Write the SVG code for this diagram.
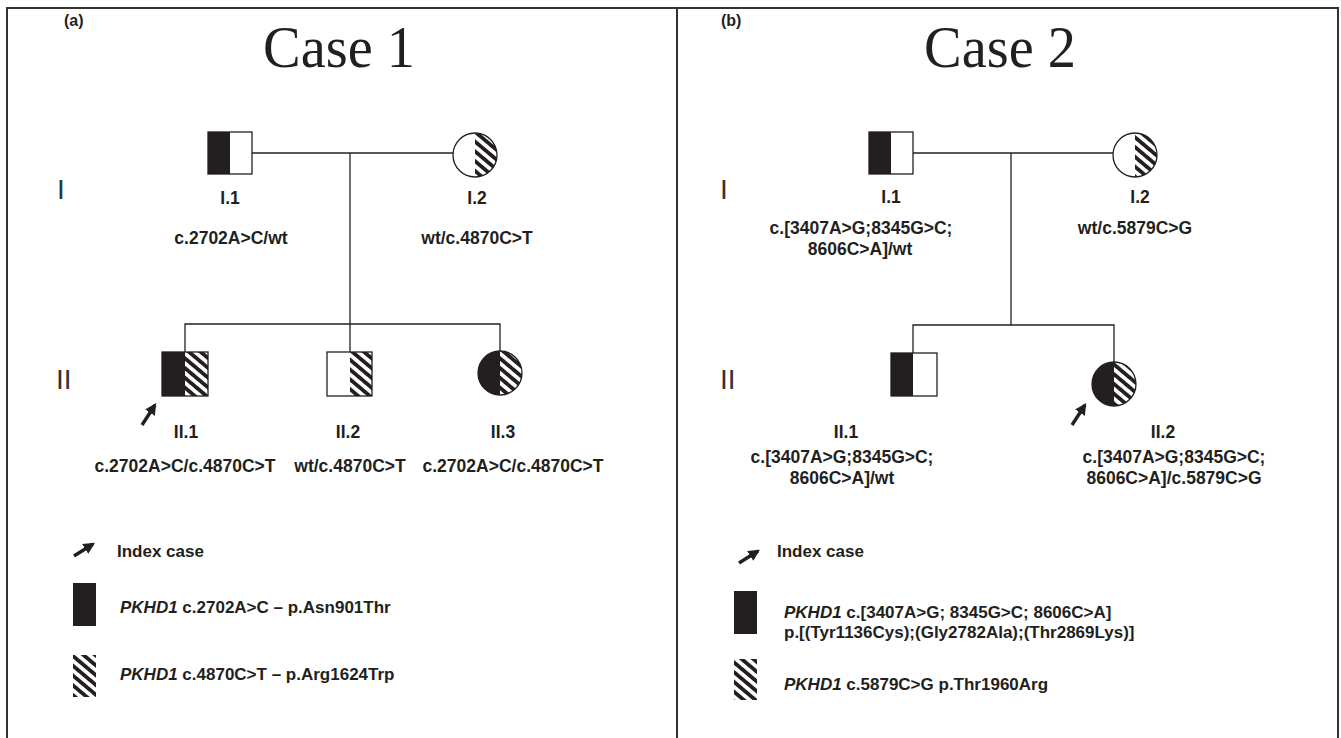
<svg xmlns="http://www.w3.org/2000/svg" width="1341" height="738" viewBox="0 0 1341 738">
<style>
.lbl{font-family:"Liberation Sans",Arial,sans-serif;font-weight:bold;font-size:17.5px;fill:#231f20;text-anchor:middle}
.leg{font-family:"Liberation Sans",Arial,sans-serif;font-weight:bold;font-size:17px;fill:#231f20}
.gen{font-style:italic}
.rom{font-family:"Liberation Sans",Arial,sans-serif;font-size:28px;fill:#333}
.ttl{font-family:"Liberation Serif","Times New Roman",serif;font-size:60px;fill:#231f20;text-anchor:middle}
.pnl{font-family:"Liberation Sans",Arial,sans-serif;font-weight:bold;font-size:16px;fill:#231f20}
.ln{stroke:#231f20;stroke-width:1.3;fill:none}
.out{stroke:#231f20;stroke-width:1.3;fill:none}
.blk{fill:#231f20}
.hat{fill:url(#hatch)}
.arr{stroke:#231f20;stroke-width:3.4;fill:none;marker-end:url(#ah)}
.frame{stroke:#333;stroke-width:2;fill:none}
</style>
<defs>
<pattern id="hatch" patternUnits="userSpaceOnUse" width="7.5" height="7.5" patternTransform="rotate(-50)">
<rect width="7.5" height="7.5" fill="#fff"/>
<rect width="3.8" height="7.5" fill="#231f20"/>
</pattern>
<marker id="ah" viewBox="0 0 10 10" refX="8" refY="5" markerWidth="3.4" markerHeight="3.4" orient="auto" markerUnits="strokeWidth">
<path d="M0,0 L10,5 L0,10 z" fill="#231f20"/>
</marker>
</defs>
<rect width="1341" height="738" fill="#fff"/>
<g id="frame">
<path class="frame" d="M7,738 V8 H1338 V738"/>
<path class="frame" d="M677,8 V738"/>
</g>

<g id="case1-title">
<text class="pnl" x="64" y="26">(a)</text>
<text class="ttl" x="339" y="67" textLength="152" lengthAdjust="spacingAndGlyphs">Case 1</text>
<text class="rom" x="57" y="199">I</text>
<text class="rom" x="56" y="389">II</text>
</g>
<g id="connectors1">
<path class="ln" d="M252,153 H453"/>
<path class="ln" d="M350,153 V324"/>
<path class="ln" d="M185,352 V324 H500 V351"/>
<path class="ln" d="M350,324 V352"/>
</g>
<g id="c1-I1">
<rect class="blk" x="208" y="132" width="22" height="42"/>
<rect class="out" x="208" y="132" width="44" height="42"/>
<text class="lbl" x="230" y="204">I.1</text>
<text class="lbl" x="231" y="244">c.2702A&gt;C/wt</text>
</g>
<g id="c1-I2">
<circle cx="475" cy="155" r="22" fill="#fff"/>
<path class="hat" d="M475,133 A22,22 0 0 1 475,177 Z"/>
<circle class="out" cx="475" cy="155" r="22"/>
<text class="lbl" x="477" y="204">I.2</text>
<text class="lbl" x="477" y="244">wt/c.4870C&gt;T</text>
</g>
<g id="c1-II1">
<rect class="blk" x="162" y="352" width="23" height="44"/>
<rect class="hat" x="185" y="352" width="23" height="44"/>
<rect class="out" x="162" y="352" width="46" height="44"/>
<path class="arr" d="M142,425 L155,405"/>
<text class="lbl" x="186" y="438">II.1</text>
<text class="lbl" x="185" y="472">c.2702A&gt;C/c.4870C&gt;T</text>
</g>
<g id="c1-II2">
<rect class="hat" x="350" y="352" width="22" height="44"/>
<rect class="out" x="327" y="352" width="45" height="44"/>
<text class="lbl" x="348" y="438">II.2</text>
<text class="lbl" x="350" y="472">wt/c.4870C&gt;T</text>
</g>
<g id="c1-II3">
<path class="blk" d="M500,351 A22,22 0 0 0 500,395 Z"/>
<path class="hat" d="M500,351 A22,22 0 0 1 500,395 Z"/>
<circle class="out" cx="500" cy="373" r="22"/>
<text class="lbl" x="503" y="438">II.3</text>
<text class="lbl" x="513" y="472">c.2702A&gt;C/c.4870C&gt;T</text>
</g>
<g id="c1-legend">
<path class="arr" d="M74,556 L93,544"/>
<text class="leg" x="117" y="557">Index case</text>
<rect class="blk" x="73" y="583" width="23" height="43"/>
<text class="leg" x="120" y="613"><tspan class="gen">PKHD1</tspan> c.2702A&gt;C – p.Asn901Thr</text>
<rect class="hat" x="73" y="655" width="23" height="42"/>
<text class="leg" x="120" y="680"><tspan class="gen">PKHD1</tspan>  c.4870C&gt;T – p.Arg1624Trp</text>
</g>

<g id="case2-title">
<text class="pnl" x="721" y="26">(b)</text>
<text class="ttl" x="1000" y="67" textLength="152" lengthAdjust="spacingAndGlyphs">Case 2</text>
<text class="rom" x="720" y="199">I</text>
<text class="rom" x="720" y="389">II</text>
</g>
<g id="connectors2">
<path class="ln" d="M913,153 H1113"/>
<path class="ln" d="M1011,153 V325"/>
<path class="ln" d="M913,353 V325 H1114 V362"/>
</g>
<g id="c2-I1">
<rect class="blk" x="869" y="132" width="22" height="42"/>
<rect class="out" x="869" y="132" width="44" height="42"/>
<text class="lbl" x="891" y="203">I.1</text>
<text class="lbl" x="861" y="234">c.[3407A&gt;G;8345G&gt;C;</text>
<text class="lbl" x="860" y="255">8606C&gt;A]/wt</text>
</g>
<g id="c2-I2">
<circle cx="1135" cy="155" r="22" fill="#fff"/>
<path class="hat" d="M1135,133 A22,22 0 0 1 1135,177 Z"/>
<circle class="out" cx="1135" cy="155" r="22"/>
<text class="lbl" x="1140" y="203">I.2</text>
<text class="lbl" x="1135" y="234">wt/c.5879C&gt;G</text>
</g>
<g id="c2-II1">
<rect class="blk" x="891" y="353" width="22" height="43"/>
<rect class="out" x="891" y="353" width="46" height="43"/>
<text class="lbl" x="846" y="438">II.1</text>
<text class="lbl" x="842" y="463">c.[3407A&gt;G;8345G&gt;C;</text>
<text class="lbl" x="842" y="484">8606C&gt;A]/wt</text>
</g>
<g id="c2-II2">
<path class="blk" d="M1114,362 A22,22 0 0 0 1114,406 Z"/>
<path class="hat" d="M1114,362 A22,22 0 0 1 1114,406 Z"/>
<circle class="out" cx="1114" cy="384" r="22"/>
<path class="arr" d="M1072,425 L1085,405"/>
<text class="lbl" x="1163" y="438">II.2</text>
<text class="lbl" x="1174" y="463">c.[3407A&gt;G;8345G&gt;C;</text>
<text class="lbl" x="1174" y="484">8606C&gt;A]/c.5879C&gt;G</text>
</g>
<g id="c2-legend">
<path class="arr" d="M739,563 L758,551"/>
<text class="leg" x="777" y="557">Index case</text>
<rect class="blk" x="734" y="591" width="23" height="43"/>
<text class="leg" x="784" y="618"><tspan class="gen">PKHD1</tspan>  c.[3407A&gt;G; 8345G&gt;C; 8606C&gt;A]</text>
<text class="leg" x="784" y="638">p.[(Tyr1136Cys);(Gly2782Ala);(Thr2869Lys)]</text>
<rect class="hat" x="734" y="659" width="23" height="41"/>
<text class="leg" x="784" y="690"><tspan class="gen">PKHD1</tspan>  c.5879C&gt;G  p.Thr1960Arg</text>
</g>
</svg>
